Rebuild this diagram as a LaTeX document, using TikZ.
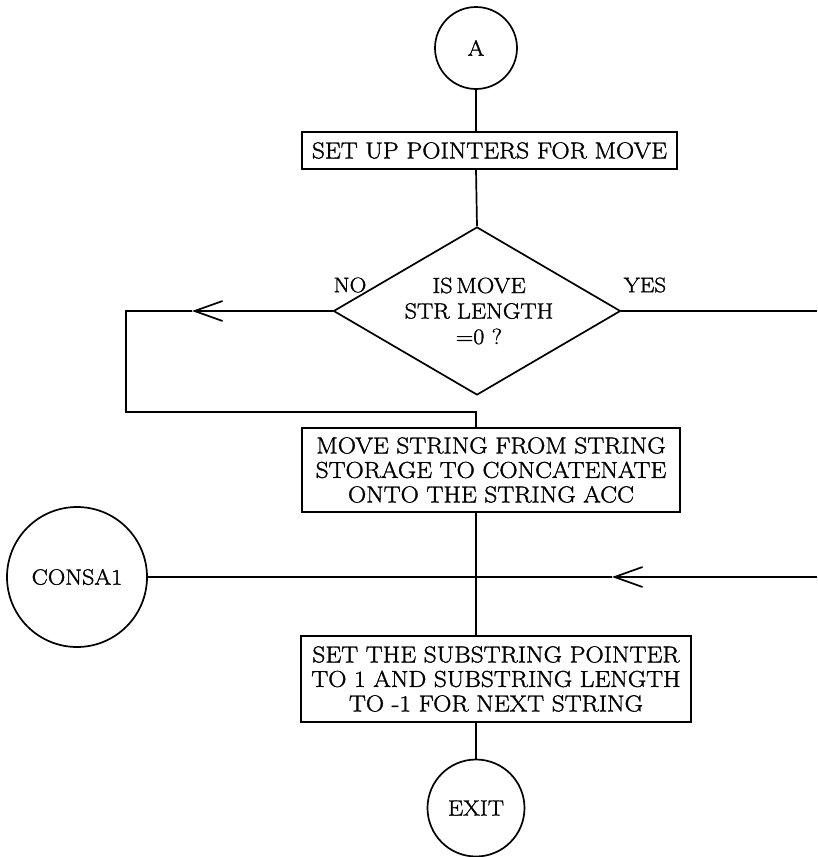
\documentclass[tikz,border=0pt]{standalone}
\usepackage{fontspec}
\setmainfont{Latin Modern Roman}[FakeStretch=1.1,FakeBold=1.4]
\usetikzlibrary{shapes.geometric,arrows.meta}
\begin{document}
\begin{tikzpicture}[x=1pt,y=-1pt,
  line/.style={line width=1.7pt},
  proc/.style={draw,line width=1.7pt,rectangle,inner sep=0pt,align=center,font=\fontsize{23}{24.5}\selectfont},
  term/.style={draw,circle,line width=1.7pt,inner sep=0pt,font=\fontsize{22}{24}\selectfont},
  barb/.style={-{Straight Barb[length=28pt,width=20pt,line width=1.7pt]}},
  lbl/.style={font=\fontsize{21}{24}\selectfont},
  dtext/.style={align=center,inner sep=0pt,font=\fontsize{22}{25.5}\selectfont}]
\useasboundingbox (0,0) rectangle (817,857);
\fill[white] (0,0) rectangle (817,857);
% nodes
\node[term,minimum size=82pt] (A) at (476,48) {A};
\node[proc,minimum width=375pt,minimum height=37pt] (b1) at (489.5,150.5) {SET UP POINTERS FOR MOVE};
\node[draw,diamond,line width=1.7pt,minimum width=287pt,minimum height=168pt,inner sep=0pt] (d) at (477,311) {};
\node[dtext] (dt) at (479,311) {IS\,MOVE\\STR LENGTH\\=0 ?};
\node[lbl] (no) at (350,285) {NO};
\node[lbl] (yes) at (645,285) {YES};
\node[proc,minimum width=378pt,minimum height=84pt] (b2) at (491,470) {MOVE STRING FROM STRING\\STORAGE TO CONCATENATE\\ONTO THE STRING ACC};
\node[term,minimum size=140pt] (C) at (77,577) {CONSA1};
\node[proc,minimum width=390pt,minimum height=86pt] (b3) at (496,679) {SET THE SUBSTRING POINTER\\TO 1 AND SUBSTRING LENGTH\\TO -1 FOR NEXT STRING};
\node[term,minimum size=97pt] (E) at (476,808) {EXIT};
% coordinates
\coordinate (nA) at (192,311);
\coordinate (nL) at (126,311);
\coordinate (nJ) at (476,412);
\coordinate (yE) at (817,311);
\coordinate (cE) at (817,577);
\coordinate (cA) at (612,577);
% connectors
\draw[line] (A.south) -- (A.south |- b1.north);
\draw[line] (b1.south -| A.south) -- (d.north);
\draw[line,barb] (d.west) -- (nA);
\draw[line] (nA) -- (nL) -- (nL |- nJ) -- (nJ) -- (nJ |- b2.north);
\draw[line] (d.east) -- (yE);
\draw[line,barb] (cE) -- (cA);
\draw[line] (cA) -- (C.east);
\draw[line] (b2.south -| nJ) -- (b3.north -| nJ);
\draw[line] (b3.south -| nJ) -- (E.north);
\end{tikzpicture}
\end{document}
